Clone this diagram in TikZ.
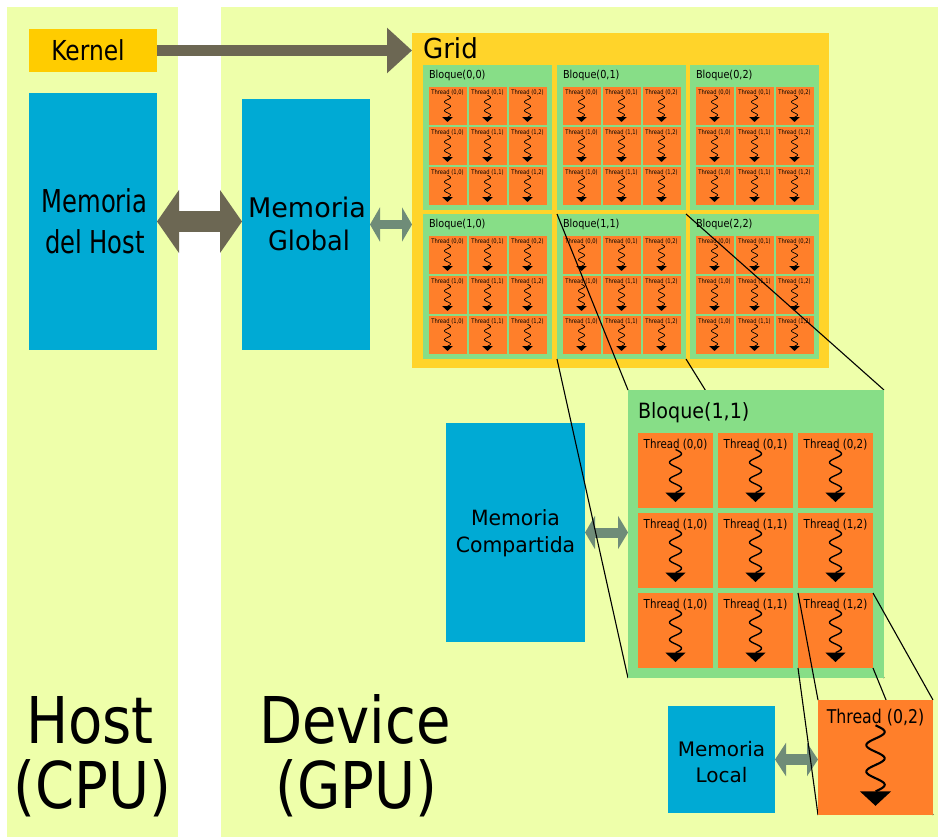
\documentclass[tikz,border=0pt]{standalone}
\usepackage{fontspec}
\setmainfont{DejaVu Sans}
\usepackage{graphicx}
\usetikzlibrary{arrows.meta,calc}
\definecolor{panelc}{HTML}{EEFFAA}
\definecolor{kernc}{HTML}{FFCC00}
\definecolor{memc}{HTML}{00AAD4}
\definecolor{gridc}{HTML}{FFD42A}
\definecolor{blockc}{HTML}{87DE87}
\definecolor{threadc}{HTML}{FF7F2A}
\definecolor{arrdark}{HTML}{6C6753}
\definecolor{arrgreen}{HTML}{6F8C78}
\pgfdeclarelayer{linesA}
\pgfdeclarelayer{bigL}
\pgfdeclarelayer{linesB}
\pgfdeclarelayer{topL}
\pgfsetlayers{main,linesA,bigL,linesB,topL}
\newcommand\fsz[1]{\fontsize{#1}{#1}\selectfont}
\newcommand\sx[2]{\scalebox{#1}[1]{#2}}
\newcommand\tcell[5]{%
  \pgfmathsetmacro\tcfs{0.165*#4}%
  \pgfmathsetmacro\tclw{#4/55}%
  \node[tbox, minimum width=#4pt, minimum height=#4pt] (#1) at (#2,#3) {};
  \node[txt, font=\fsz{\tcfs}] (#1-l) at ($(#1.north west)+(0.5*#4,0.2*#4)$) {\sx{0.83}{Thread #5}};
  \begin{scope}[shift={(#1.north west)}, x=#4pt, y=-#4pt]
    \draw[line width=\tclw pt] plot[domain=0:1, samples=60, smooth, variable=\s] ({0.5+0.08*sin(900*\s)}, {0.22+0.575*\s});
    \fill (0.365,0.795) -- (0.635,0.795) -- (0.5,0.92) -- cycle;
  \end{scope}
}
\begin{document}
\begin{tikzpicture}[x=1pt,y=-1pt,
  box/.style={draw=none, inner sep=0pt, outer sep=0pt, anchor=north west},
  tbox/.style={box, fill=threadc},
  txt/.style={inner sep=0pt, outer sep=0pt, anchor=base},
  txtl/.style={inner sep=0pt, outer sep=0pt, anchor=base west},
  proj/.style={draw=black, line width=1.1pt},
  darkarrow/.style={draw=arrdark},
  greenarrow/.style={draw=arrgreen}]
\useasboundingbox (0,0) rectangle (938,837);
% panels
\node[box, fill=panelc, minimum width=171pt, minimum height=830pt] (hostbg) at (7,7) {};
\node[box, fill=panelc, minimum width=717pt, minimum height=830pt] (devbg) at (221,7) {};
% kernel
\node[box, fill=kernc, minimum width=128pt, minimum height=43pt] (kernel) at (29,29) {};
\node[txt, font=\fsz{27.5}] (kernel-l) at (88,61) {\sx{0.85}{Kernel}};
% host memory
\node[box, fill=memc, minimum width=128pt, minimum height=257pt] (hostmem) at (29,93) {};
\node[txt, font=\fsz{31.5}] (hostmem-l1) at (94.5,213) {\sx{0.77}{Memoria}};
\node[txt, font=\fsz{31.5}] (hostmem-l2) at (95,254) {\sx{0.77}{del Host}};
% global memory
\node[box, fill=memc, minimum width=128pt, minimum height=251pt] (globmem) at (242,99) {};
\node[txt, font=\fsz{27}] (globmem-l1) at (307,218) {Memoria};
\node[txt, font=\fsz{27}] (globmem-l2) at (309,251) {\sx{0.95}{Global}};
% grid
\node[box, fill=gridc, minimum width=417pt, minimum height=335pt] (grid) at (412,33) {};
\node[txtl, font=\fsz{27.5}] (grid-l) at (423,59) {\sx{0.95}{Grid}};
\foreach \bx/\by/\bn/\ba/\bb in {423/65/b00/0/0, 557/65/b01/0/1, 690/65/b02/0/2, 423/214/b10/1/0, 557/214/b11/1/1, 690/214/b12/2/2} {
  \node[box, fill=blockc, minimum width=129pt, minimum height=145pt] (\bn) at (\bx,\by) {};
  \node[txtl, font=\fsz{11}] (\bn-l) at (\bx+6,\by+13.5) {\sx{0.88}{Bloque(\ba,\bb)}};
  \foreach \i/\ri in {0/0,1/1,2/1} {
    \foreach \j in {0,1,2} {
      \tcell{\bn-\i\j}{\bx+5.5+40*\j}{\by+22+40*\i}{38}{(\ri,\j)}
    }
  }
}
% shared memory
\node[box, fill=memc, minimum width=139pt, minimum height=219pt] (sharedmem) at (446,423) {};
\node[txt, font=\fsz{21}] (sharedmem-l1) at (515.5,525) {\sx{0.97}{Memoria}};
\node[txt, font=\fsz{21}] (sharedmem-l2) at (515.5,552) {\sx{0.97}{Compartida}};
% arrows
\draw[darkarrow, line width=11pt, -{Triangle[length=25pt,width=44pt]}] (kernel.east) -- (kernel.east -| grid.west);
\draw[darkarrow, line width=21pt, {Triangle[length=22pt,width=62pt]}-{Triangle[length=22pt,width=62pt]}] (hostmem.east) -- (hostmem.east -| globmem.west);
\draw[greenarrow, line width=9pt, {Triangle[length=10pt,width=34pt]}-{Triangle[length=10pt,width=34pt]}] (globmem.east) -- (globmem.east -| grid.west);
% big block
\begin{pgfonlayer}{bigL}
\node[box, fill=blockc, minimum width=256pt, minimum height=288pt] (bigblock) at (628,390) {};
\node[txtl, font=\fsz{21}] (bigblock-l) at (638,418) {\sx{0.91}{Bloque(1,1)}};
\foreach \i/\ri in {0/0,1/1,2/1} {
  \foreach \j in {0,1,2} {
    \tcell{B-\i\j}{638+80*\j}{433+80*\i}{75}{(\ri,\j)}
  }
}
\end{pgfonlayer}
\draw[greenarrow, line width=10pt, {Triangle[length=10pt,width=33pt]}-{Triangle[length=10pt,width=33pt]}] (sharedmem.east) -- (sharedmem.east -| bigblock.west);
% single thread
\begin{pgfonlayer}{topL}
\tcell{T02}{818}{700}{115}{(0,2)}
\end{pgfonlayer}
% local memory
\node[box, fill=memc, minimum width=107pt, minimum height=107pt] (localmem) at (668,706) {};
\node[txt, font=\fsz{20}] (localmem-l1) at (721.5,756) {Memoria};
\node[txt, font=\fsz{20}] (localmem-l2) at (721.5,782) {Local};
\draw[greenarrow, line width=11pt, {Triangle[length=11pt,width=33pt]}-{Triangle[length=11pt,width=33pt]}] (localmem.east) -- (localmem.east -| T02.west);
% projection lines
\begin{pgfonlayer}{linesA}
\draw[proj] (b11.north west) -- (bigblock.north west);
\draw[proj] (b11.north east) -- (bigblock.north east);
\draw[proj] (b11.south west) -- (bigblock.south west);
\draw[proj] (b11.south east) -- (bigblock.south east);
\end{pgfonlayer}
\begin{pgfonlayer}{linesB}
\draw[proj] (B-22.north west) -- (T02.north west);
\draw[proj] (B-22.north east) -- (T02.north east);
\draw[proj] (B-22.south west) -- (T02.south west);
\draw[proj] (B-22.south east) -- (T02.south east);
\end{pgfonlayer}
% host / device labels
\node[txt, font=\fsz{64.5}] (host-l1) at (90,743) {\sx{0.87}{Host}};
\node[txt, font=\fsz{64.5}] (host-l2) at (92.5,808) {\sx{0.87}{(CPU)}};
\node[txt, font=\fsz{64.5}] (dev-l1) at (355,743) {\sx{0.87}{Device}};
\node[txt, font=\fsz{64.5}] (dev-l2) at (356.5,808) {\sx{0.87}{(GPU)}};
\end{tikzpicture}
\end{document}
